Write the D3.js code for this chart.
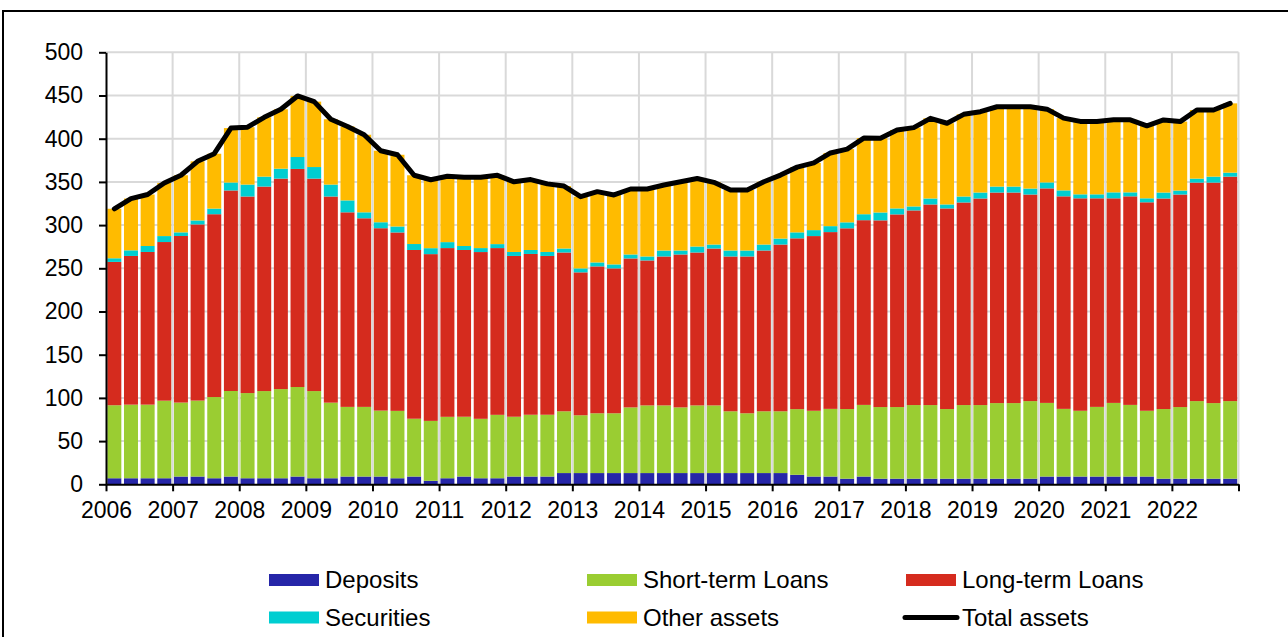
<!DOCTYPE html>
<html>
<head>
<meta charset="utf-8">
<script src="https://cdn.jsdelivr.net/npm/d3@7"></script>
<style>
  body { margin: 0; background: #fff; }
  svg text { font-family: "Liberation Sans", Arial, sans-serif; fill: #000; }
</style>
</head>
<body>
<svg id="chart" width="1288" height="637"></svg>
<script>
// Year tick labels (each year has four quarterly bars)
const years = d3.range(2006, 2023);

// Quarterly values, 2006Q1 .. 2022Q4
const deposits = [7,7,7,7, 9,9,7,9, 7,7,7,9, 7,7,9,9, 9,7,9,4, 7,9,7,7, 9,9,9,13,
  13,13,13,13, 13,13,13,13, 13,13,13,13, 13,11,9,9, 6.5,9,6.5,6.5, 6.5,6.5,6.5,6.5,
  6.5,6.5,6.5,6.5, 9,9,9,9, 9,9,9,6.5, 6.5,6.5,6.5,6.5];

const shortTerm = [84.5,85.2,85.2,89.8, 85.6,87.9,94.0,99.0, 98.6,100.9,103.2,103.6, 100.9,87.5,80.6,80.6,
  76.3,78.0,66.9,69.4, 71.1,69.2,68.8,73.4, 69.2,71.5,71.5,71.5, 66.9,69.2,69.2,76.0,
  78.3,78.3,76.0,78.3, 78.3,71.5,69.2,71.5, 71.5,76.0,76.1,78.3, 80.6,82.9,82.9,82.9,
  85.2,85.2,80.6,85.2, 85.2,87.5,87.5,89.8, 85.2,78.3,76.1,80.6, 85.2,82.9,76.1,80.6,
  82.9,89.8,87.5,89.8];

const longTerm = [165.9,172.1,176.7,183.6, 192.8,203.9,211.6,232.1, 227.5,236.7,243.6,252.4, 245.9,238.6,225.2,218.3,
  211.1,206.5,195.3,193.0, 195.3,193.0,193.0,193.0, 186.1,186.1,183.8,183.8, 165.4,170.0,167.7,172.4,
  167.8,172.4,177.0,177.0, 181.6,179.2,181.5,186.1, 193.0,197.7,202.2,204.6, 209.2,213.8,216.1,223.0,
  225.3,232.2,232.2,234.5, 239.1,243.7,243.7,239.1, 248.3,246.0,245.9,241.4, 236.8,241.4,241.3,243.7,
  246.0,252.9,255.2,259.8];

const securities = [4.2,6.5,6.9,6.9, 4.2,4.6,6.5,9.2, 13.8,11.5,11.5,13.8, 13.4,13.8,13.8,6.9,
  6.9,6.9,6.9,6.9, 6.9,4.6,4.6,4.6, 4.6,4.6,4.6,4.6, 4.6,4.6,4.6,4.6,
  4.6,6.9,4.6,6.9, 4.6,6.9,6.9,6.9, 6.9,6.9,6.9,6.9, 6.9,6.9,9.1,6.9,
  4.6,6.9,4.6,6.9, 6.9,6.9,6.9,6.9, 6.9,6.9,4.6,4.6, 6.9,4.6,4.6,6.9,
  4.6,4.6,6.9,4.6];

const otherAssets = [57.3,59.9,59.6,61.5, 66.1,68.4,63.5,63.0, 66.4,68.7,68.8,70.7, 75.7,75.6,85.6,89.8,
  82.8,83.0,79.6,79.2, 76.2,79.6,81.9,79.6, 81.2,81.5,78.8,72.3, 83.0,81.9,80.4,75.8,
  78.1,75.8,79.6,78.8, 72.0,70.0,70.0,72.7, 73.5,75.5,77.8,84.7, 84.7,88.1,85.9,90.8,
  91.2,92.8,94.0,95.1, 93.6,92.4,92.4,94.7, 84.8,83.6,84.4,84.4, 84.0,84.0,83.9,84.0,
  79.8,79.4,77.1,80.2];

const quarters = years.flatMap(y => [1, 2, 3, 4].map(q => y + "Q" + q));

const seriesKeys = ["Deposits", "Short-term Loans", "Long-term Loans", "Securities", "Other assets"];
const seriesValues = [deposits, shortTerm, longTerm, securities, otherAssets];
const colors = ["#2626A8", "#9ACD32", "#D52B1E", "#00CED1", "#FFBB00"];

// rows for d3.stack
const rows = quarters.map((q, i) => {
  const r = { quarter: q };
  seriesKeys.forEach((k, j) => r[k] = seriesValues[j][i]);
  return r;
});
const totals = rows.map(r => d3.sum(seriesKeys, k => r[k]));

const svg = d3.select("#chart");

// outer frame
svg.append("rect")
  .attr("x", 3).attr("y", 11)
  .attr("width", 1400).attr("height", 700)
  .attr("fill", "none").attr("stroke", "#000").attr("stroke-width", 2);

const plot = { left: 106, right: 1238.5, top: 52.3, bottom: 484.3 };

const x = d3.scaleBand()
  .domain(quarters)
  .range([plot.left, plot.right])
  .paddingInner(0.16)
  .paddingOuter(0.08);

const xPos = d3.scaleLinear().domain([0, quarters.length]).range([plot.left, plot.right]);

const y = d3.scaleLinear().domain([0, 500]).range([plot.bottom, plot.top]);

// gridlines
const grid = svg.append("g").attr("stroke", "#D9D9D9").attr("stroke-width", 2);
grid.selectAll("line.h")
  .data(d3.range(50, 501, 50))
  .join("line")
  .attr("class", "h")
  .attr("x1", plot.left).attr("x2", plot.right)
  .attr("y1", d => y(d)).attr("y2", d => y(d));
grid.selectAll("line.v")
  .data(d3.range(1, years.length + 1))
  .join("line")
  .attr("class", "v")
  .attr("x1", d => xPos(d * 4)).attr("x2", d => xPos(d * 4))
  .attr("y1", y(0)).attr("y2", y(500));

// stacked bars
const stack = d3.stack().keys(seriesKeys)(rows);
svg.append("g")
  .selectAll("g")
  .data(stack)
  .join("g")
  .attr("fill", (d, i) => colors[i])
  .selectAll("rect")
  .data(d => d)
  .join("rect")
  .attr("x", d => x(d.data.quarter))
  .attr("width", x.bandwidth())
  .attr("y", d => y(d[1]))
  .attr("height", d => y(d[0]) - y(d[1]));

// total assets line
const line = d3.line()
  .x((d, i) => x(quarters[i]) + x.bandwidth() / 2)
  .y(d => y(d));
svg.append("path")
  .datum(totals)
  .attr("fill", "none")
  .attr("stroke", "#000")
  .attr("stroke-width", 5)
  .attr("stroke-linejoin", "round")
  .attr("stroke-linecap", "round")
  .attr("d", line);

// y axis
const yAxis = svg.append("g")
  .attr("transform", `translate(${plot.left},0)`)
  .call(d3.axisLeft(y).tickValues(d3.range(0, 501, 50)).tickSize(7).tickPadding(16).tickSizeOuter(0));
yAxis.select(".domain").attr("stroke", "#000").attr("stroke-width", 2);
yAxis.selectAll(".tick line").attr("stroke", "#000").attr("stroke-width", 2);
yAxis.selectAll("text").attr("font-size", 23).style("font-family", "Liberation Sans, Arial, sans-serif");

// x axis with ticks at year boundaries
const xAxis = svg.append("g")
  .attr("transform", `translate(0,${plot.bottom})`)
  .call(d3.axisBottom(xPos)
    .tickValues(d3.range(0, quarters.length + 1, 4))
    .tickFormat(d => d / 4 < years.length ? years[d / 4] : "")
    .tickSize(7).tickPadding(10).tickSizeOuter(0));
xAxis.select(".domain").attr("stroke", "#000").attr("stroke-width", 2);
xAxis.selectAll(".tick line").attr("stroke", "#000").attr("stroke-width", 2);
xAxis.selectAll("text").attr("font-size", 23).style("font-family", "Liberation Sans, Arial, sans-serif");

// legend
const legendItems = [
  { name: "Deposits", color: colors[0], col: 0, row: 0 },
  { name: "Short-term Loans", color: colors[1], col: 1, row: 0 },
  { name: "Long-term Loans", color: colors[2], col: 2, row: 0 },
  { name: "Securities", color: colors[3], col: 0, row: 1 },
  { name: "Other assets", color: colors[4], col: 1, row: 1 },
  { name: "Total assets", color: "#000", col: 2, row: 1, line: true }
];
const colX = [269, 587, 906];
const rowY = [580, 617.5];

const legend = svg.append("g")
  .selectAll("g")
  .data(legendItems)
  .join("g")
  .attr("transform", d => `translate(${colX[d.col]},${rowY[d.row]})`);

legend.filter(d => !d.line).append("rect")
  .attr("x", 0).attr("y", -6)
  .attr("width", 50).attr("height", 12)
  .attr("fill", d => d.color);

legend.filter(d => d.line).append("line")
  .attr("x1", -1).attr("x2", 51)
  .attr("stroke", "#000").attr("stroke-width", 5)
  .attr("stroke-linecap", "round");

legend.append("text")
  .attr("x", 56)
  .attr("y", 8)
  .attr("font-size", 24)
  .text(d => d.name);
</script>
</body>
</html>
